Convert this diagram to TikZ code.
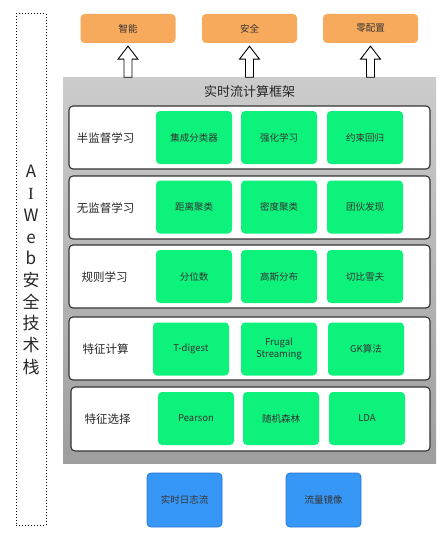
\documentclass[tikz,border=0pt]{standalone}
\usepackage{fontspec}
\setmainfont{Noto Sans CJK SC}
\newfontfamily\serifI{Liberation Serif}
\usetikzlibrary{calc}
\definecolor{orangebox}{HTML}{F8AA5C}
\definecolor{greenbox}{HTML}{0DF27B}
\definecolor{bluebox}{HTML}{3797F7}
\definecolor{blueedge}{HTML}{2775D5}
\definecolor{txt}{HTML}{333333}
\tikzset{
  obox/.style={fill=orangebox, rounded corners=4pt, minimum width=95pt, minimum height=29pt, inner sep=0pt, text=txt, font=\fontsize{9.5}{11}\selectfont},
  gbox/.style={fill=greenbox, rounded corners=4pt, minimum width=76pt, minimum height=53pt, inner sep=0pt, text=txt, align=center, font=\fontsize{9.5}{11.5}\selectfont},
  bbox/.style={fill=bluebox, draw=blueedge, line width=0.8pt, rounded corners=4pt, minimum width=75pt, minimum height=54pt, inner sep=0pt, text=txt, font=\fontsize{9.5}{11}\selectfont},
  rowbox/.style={fill=white, draw=black!80, line width=1.1pt, rounded corners=4pt, minimum width=361pt, minimum height=63pt, inner sep=0pt},
  rowlabel/.style={text=black!85, font=\fontsize{11.5}{13}\selectfont, inner sep=0pt},
  hollow/.style={draw=black, fill=white, line width=0.9pt, line join=miter},
}
\begin{document}
\begin{tikzpicture}[x=1pt,y=-1pt]
\useasboundingbox (0,0) rectangle (447,535);
% left dotted stack box
\node[draw=black, dotted, line width=1pt, minimum width=30pt, minimum height=511pt, inner sep=0pt] (stack) at (31,269.5) {};
\node[align=center, font=\fontsize{17}{21.7}\selectfont, text=black!85] (stacktext) at (31,270) {A\\{\serifI I}\\W\\e\\b\\安\\全\\技\\术\\栈};
% top goals
\node[obox] (o1) at (128,28.5) {智能};
\node[obox] (o2) at (249.5,28.5) {安全};
\node[obox] (o3) at (370.5,28.5) {零配置};
% frame
\node[minimum width=373pt, minimum height=386pt, inner sep=0pt, top color=black!20, bottom color=black!38] (frame) at (249.5,270) {};
\node[font=\fontsize{13}{15}\selectfont, text=black!85, inner sep=0pt] (title) at (249.5,92) {实时流计算框架};
% arrows
\foreach \o in {o1,o2,o3}{
  \draw[hollow] ($(\o.south)+(0,3)$) -- ++(10,13) -- ++(-6,0) -- ++(0,18) -- ++(-8,0) -- ++(0,-18) -- ++(-6,0) -- cycle;
}
% rows
\node[rowbox] (r1) at (249.5,137.5) {};
\node[rowbox] (r2) at (249.5,207.5) {};
\node[rowbox] (r3) at (249.5,276.5) {};
\node[rowbox] (r4) at (249.5,348.5) {};
\node[rowbox, minimum height=64pt, minimum width=359pt] (r5) at (250.5,419) {};
\node[rowlabel] (l1) at (105.5,138) {半监督学习};
\node[rowlabel] (l2) at (105.5,208) {无监督学习};
\node[rowlabel] (l3) at (104.5,277) {规则学习};
\node[rowlabel] (l4) at (105.5,349) {特征计算};
\node[rowlabel] (l5) at (107.5,419) {特征选择};
% green boxes
\node[gbox] (g11) at (194,137.5) {集成分类器};
\node[gbox] (g12) at (279,137.5) {强化学习};
\node[gbox] (g13) at (365,137.5) {约束回归};
\node[gbox] (g21) at (194,207) {距离聚类};
\node[gbox] (g22) at (279,207) {密度聚类};
\node[gbox] (g23) at (365,207) {团伙发现};
\node[gbox] (g31) at (194,276.5) {分位数};
\node[gbox] (g32) at (279,276.5) {高斯分布};
\node[gbox] (g33) at (365,276.5) {切比雪夫};
\node[gbox] (g41) at (191,349) {T-digest};
\node[gbox] (g42) at (279,349) {Frugal\\Streaming};
\node[gbox] (g43) at (366,349) {GK算法};
\node[gbox] (g51) at (196,418.5) {Pearson};
\node[gbox] (g52) at (281,418.5) {随机森林};
\node[gbox] (g53) at (367,418.5) {LDA};
% data sources
\node[bbox] (b1) at (184.5,500) {实时日志流};
\node[bbox] (b2) at (323.5,500) {流量镜像};
\end{tikzpicture}
\end{document}
